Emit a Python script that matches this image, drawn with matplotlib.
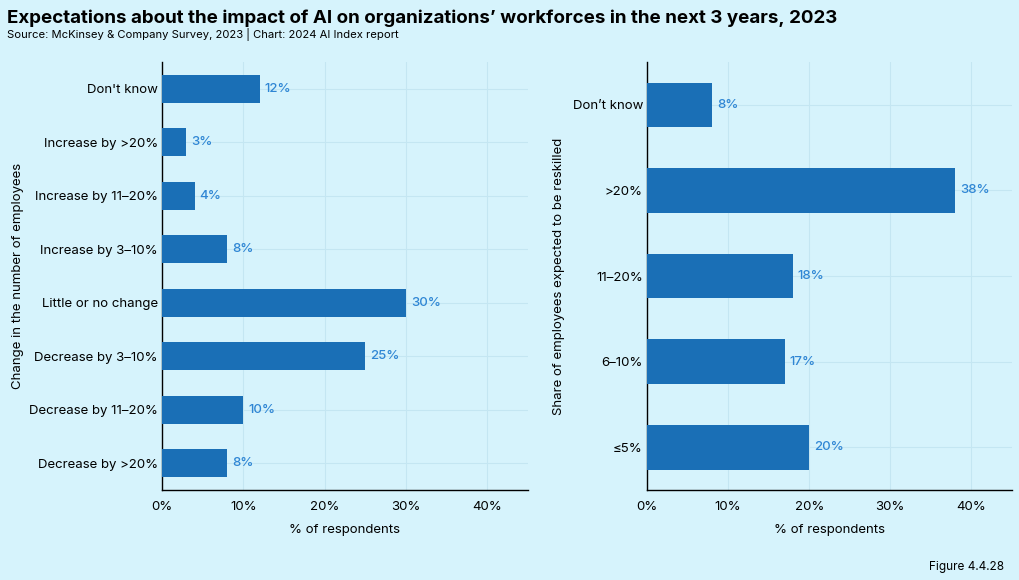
import matplotlib
matplotlib.use('Agg')
import matplotlib.pyplot as plt
import numpy as np

# Left panel: change in the number of employees
left_cats = ["Don't know", 'Increase by >20%', 'Increase by 11–20%', 'Increase by 3–10%',
             'Little or no change', 'Decrease by 3–10%', 'Decrease by 11–20%', 'Decrease by >20%']
left_vals = [12, 3, 4, 8, 30, 25, 10, 8]

# Right panel: share of employees expected to be reskilled
right_cats = ["Don’t know", '>20%', '11–20%', '6–10%', '≤5%']
right_vals = [8, 38, 18, 17, 20]

x_ticks = [0, 10, 20, 30, 40]

BG = '#d6f3fc'
BAR = '#1a6fb6'
LBL = '#2f86d4'
GRID = '#c4e6f2'

plt.rcParams['font.family'] = ['Inter', 'DejaVu Sans']

fig = plt.figure(figsize=(10.19, 5.8), dpi=100, facecolor=BG)


def draw_panel(ax, cats, vals, ylabel, ylabel_x):
    ax.set_facecolor(BG)
    y = np.arange(len(cats))
    ax.barh(y, vals, height=0.52, color=BAR, zorder=3)
    for yi, v in zip(y, vals):
        ax.text(v + 0.6, yi, f'{v}%', va='center', ha='left', color=LBL,
                fontsize=9.5, fontweight='medium', zorder=4)
    ax.set_yticks(y)
    ax.set_yticklabels(cats, fontsize=9.5)
    ax.set_ylim(len(cats) - 0.5, -0.5)
    ax.set_xlim(0, 45)
    ax.set_xticks(x_ticks)
    ax.set_xticklabels([f'{t}%' for t in x_ticks], fontsize=9.5)
    ax.tick_params(axis='y', length=0, pad=3)
    ax.tick_params(axis='x', length=0, pad=8)
    ax.grid(True, color=GRID, linewidth=0.8, zorder=0)
    for s in ['top', 'right']:
        ax.spines[s].set_visible(False)
    for s in ['left', 'bottom']:
        ax.spines[s].set_color('black')
        ax.spines[s].set_linewidth(1.0)
    ax.set_xlabel('% of respondents', fontsize=9.5, labelpad=8)
    ax.set_ylabel(ylabel, fontsize=9.5)
    ax.yaxis.set_label_coords(ylabel_x, 0.5)


ax1 = fig.add_axes([0.159, 0.155, 0.359, 0.738])
draw_panel(ax1, left_cats, left_vals, 'Change in the number of employees', -0.377)

ax2 = fig.add_axes([0.635, 0.155, 0.358, 0.738])
draw_panel(ax2, right_cats, right_vals, 'Share of employees expected to be reskilled', -0.225)

fig.text(0.007, 0.968, 'Expectations about the impact of AI on organizations’ workforces in the next 3 years, 2023',
         fontsize=13.5, fontweight='bold', ha='left', va='center')
fig.text(0.007, 0.94, 'Source: McKinsey & Company Survey, 2023 | Chart: 2024 AI Index report',
         fontsize=8.1, ha='left', va='center')
fig.text(0.985, 0.012, 'Figure 4.4.28', fontsize=8.5, ha='right', va='bottom')

fig.savefig('out.png', dpi=100, facecolor=BG)
